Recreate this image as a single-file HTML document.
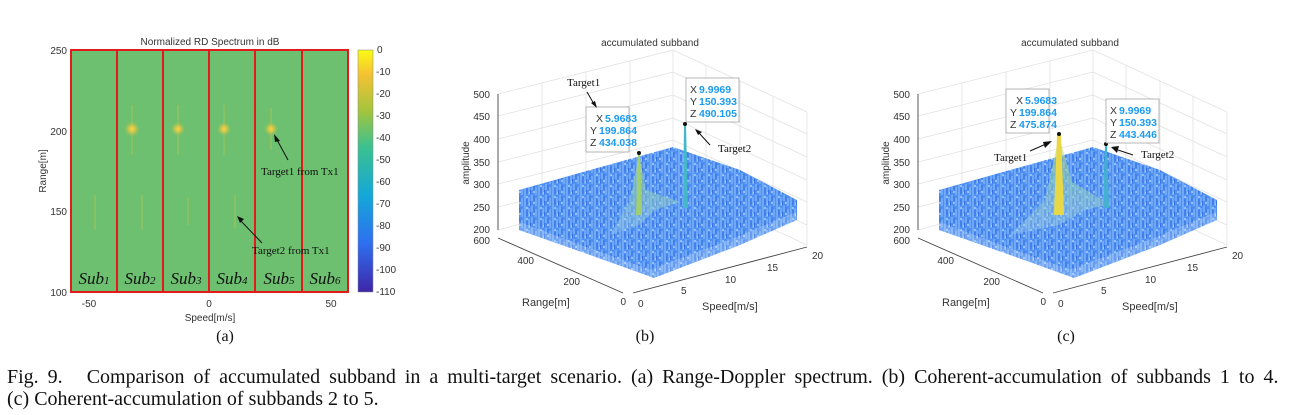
<!DOCTYPE html>
<html><head><meta charset="utf-8"><style>
body{margin:0;background:#fff;width:1291px;height:415px;overflow:hidden}
svg{display:block}
.s{font-family:"Liberation Sans",sans-serif;font-size:10px;fill:#333}
.t{font-family:"Liberation Serif",serif;fill:#111}
.tip{font-family:"Liberation Sans",sans-serif;font-size:10.5px;font-weight:bold;fill:#1a9bf0}
.tipk{font-family:"Liberation Sans",sans-serif;font-size:10.5px;fill:#333}
</style></head><body>
<svg width="1291" height="415" viewBox="0 0 1291 415">
<defs>
<linearGradient id="cb" x1="0" y1="1" x2="0" y2="0">
<stop offset="0" stop-color="#3e26a8"/><stop offset="0.2" stop-color="#2e6ff0"/><stop offset="0.4" stop-color="#14a8d8"/><stop offset="0.6" stop-color="#3bc18f"/><stop offset="0.75" stop-color="#a5c43c"/><stop offset="0.9" stop-color="#f5c232"/><stop offset="1" stop-color="#f9fb15"/>
</linearGradient>
<radialGradient id="spot"><stop offset="0" stop-color="#ffd54a"/><stop offset="0.4" stop-color="#e8c840" stop-opacity="0.7"/><stop offset="1" stop-color="#6cc070" stop-opacity="0"/></radialGradient>
<pattern id="noise" width="14" height="11" patternUnits="userSpaceOnUse">
<rect width="14" height="11" fill="#4f90f2"/>
<path d="M1 0v11M5 2v9M8 0v6M12 3v8" stroke="#8cc0fb" stroke-width="1"/>
<path d="M3 4v6M10 1v5M6.5 6v4" stroke="#3a70e0" stroke-width="1"/>
<path d="M2 2h2M9 8h2M5 9h1" stroke="#d8ecff" stroke-width="1"/>
</pattern>
<linearGradient id="cone" x1="0" y1="0" x2="0" y2="1"><stop offset="0" stop-color="#d8e060"/><stop offset="0.4" stop-color="#8fd0b0"/><stop offset="1" stop-color="#b0dce8" stop-opacity="0.5"/></linearGradient>
<g id="box">
<g stroke="#e2e2e2" stroke-width="0.8" fill="none">
<line x1="58" y1="64" x2="233" y2="20"/><line x1="233" y1="20" x2="367" y2="82"/>
<line x1="58" y1="86" x2="233" y2="42"/><line x1="233" y1="42" x2="367" y2="104"/>
<line x1="58" y1="109" x2="233" y2="65"/><line x1="233" y1="65" x2="367" y2="127"/>
<line x1="58" y1="132" x2="233" y2="88"/><line x1="233" y1="88" x2="367" y2="150"/>
<line x1="58" y1="154" x2="233" y2="110"/><line x1="233" y1="110" x2="367" y2="172"/>
<line x1="58" y1="177" x2="233" y2="133"/><line x1="233" y1="133" x2="367" y2="195"/>
<line x1="233" y1="20" x2="233" y2="153"/><line x1="367" y1="82" x2="367" y2="215"/>
<line x1="102" y1="53" x2="102" y2="188"/><line x1="146" y1="42" x2="146" y2="176"/><line x1="190" y1="31" x2="190" y2="165"/>
<line x1="266" y1="35" x2="266" y2="168"/><line x1="300" y1="51" x2="300" y2="184"/><line x1="333" y1="66" x2="333" y2="199"/>
<line x1="58" y1="200" x2="233" y2="153"/><line x1="233" y1="153" x2="367" y2="215"/>
</g>
<g stroke="#444" stroke-width="0.9" fill="none">
<line x1="58" y1="64" x2="58" y2="200"/>
<line x1="58" y1="208" x2="183" y2="263"/>
<line x1="193" y1="263" x2="367" y2="217"/>
</g>
<g class="s" text-anchor="end">
<text x="50" y="68">500</text><text x="50" y="90">450</text><text x="50" y="113">400</text><text x="50" y="136">350</text><text x="50" y="158">300</text><text x="50" y="181">250</text><text x="50" y="203">200</text>
<text x="50" y="214">600</text><text x="94" y="234">400</text><text x="140" y="255">200</text><text x="186" y="275">0</text>
</g>
<g class="s">
<text x="198" y="277">0</text><text x="241" y="264">5</text><text x="285" y="253">10</text><text x="327" y="241">15</text><text x="372" y="229">20</text>
<text x="82" y="276" font-size="11">Range[m]</text><text x="262" y="280" font-size="11">Speed[m/s]</text>
<text x="210" y="16" text-anchor="middle">accumulated subband</text>
<text transform="translate(29,133) rotate(-90)" text-anchor="middle">amplitude</text>
</g>
<polygon points="79,160 150,140 233,117 300,140 357,170 357,182 290,210 210,240 140,215 79,192" fill="url(#noise)"/>
<polygon points="79,192 140,215 210,240 290,210 357,182 357,190 300,215 214,248 150,225 79,200" fill="url(#noise)" opacity="0.8"/>
</g>
</defs>

<!-- Panel a -->
<rect x="71" y="50" width="277" height="242" fill="#6cc070"/>
<g stroke="#e8c440" stroke-width="0.8" opacity="0.6">
<line x1="132" y1="105" x2="132" y2="155"/><line x1="178" y1="105" x2="178" y2="155"/><line x1="224" y1="105" x2="224" y2="155"/><line x1="271" y1="108" x2="271" y2="150"/>
<line x1="95" y1="195" x2="95" y2="230"/><line x1="142" y1="195" x2="142" y2="230"/><line x1="188" y1="198" x2="188" y2="225"/><line x1="235" y1="195" x2="235" y2="228"/>
</g>
<circle cx="132" cy="129" r="9" fill="url(#spot)"/><circle cx="178" cy="129" r="8" fill="url(#spot)"/><circle cx="224" cy="129" r="8" fill="url(#spot)"/><circle cx="271" cy="129" r="8" fill="url(#spot)"/>
<g stroke="#e31a1c" stroke-width="2" fill="none">
<rect x="71" y="50" width="277" height="242"/>
<line x1="117" y1="50" x2="117" y2="292"/><line x1="163" y1="50" x2="163" y2="292"/><line x1="209" y1="50" x2="209" y2="292"/><line x1="255" y1="50" x2="255" y2="292"/><line x1="302" y1="50" x2="302" y2="292"/>
</g>
<g class="t" font-size="17" font-style="italic" text-anchor="middle">
<text x="94" y="284">Sub<tspan font-size="11">1</tspan></text><text x="140" y="284">Sub<tspan font-size="11">2</tspan></text><text x="186" y="284">Sub<tspan font-size="11">3</tspan></text><text x="232" y="284">Sub<tspan font-size="11">4</tspan></text><text x="279" y="284">Sub<tspan font-size="11">5</tspan></text><text x="325" y="284">Sub<tspan font-size="11">6</tspan></text>
</g>
<g stroke="#111" stroke-width="1"><line x1="288" y1="160" x2="276" y2="138"/><line x1="262" y1="243" x2="240" y2="220"/></g>
<polygon points="274,134 280,141 275,142" fill="#111"/><polygon points="237,216 244,219 240,223" fill="#111"/>
<text class="t" x="261" y="175" font-size="11">Target1 from Tx1</text>
<text class="t" x="252" y="254" font-size="11">Target2 from Tx1</text>
<rect x="358" y="50" width="15" height="242" fill="url(#cb)" stroke="#888" stroke-width="0.5"/>
<g class="s" font-size="9">
<text x="377" y="53">0</text><text x="376" y="75">-10</text><text x="376" y="97">-20</text><text x="376" y="119">-30</text><text x="376" y="141">-40</text><text x="376" y="163">-50</text><text x="376" y="185">-60</text><text x="376" y="207">-70</text><text x="376" y="229">-80</text><text x="376" y="251">-90</text><text x="376" y="273">-100</text><text x="376" y="295">-110</text>
</g>
<g class="s">
<text x="210" y="45" text-anchor="middle">Normalized RD Spectrum in dB</text>
<text x="67" y="54" text-anchor="end">250</text><text x="67" y="135" text-anchor="end">200</text><text x="67" y="215" text-anchor="end">150</text><text x="67" y="296" text-anchor="end">100</text>
<text x="89" y="307" text-anchor="middle">-50</text><text x="209" y="307" text-anchor="middle">0</text><text x="331" y="307" text-anchor="middle">50</text>
<text x="210" y="321" text-anchor="middle">Speed[m/s]</text>
<text transform="translate(46,171) rotate(-90)" text-anchor="middle">Range[m]</text>
</g>
<text class="t" x="225" y="341" font-size="16" text-anchor="middle">(a)</text>

<!-- Panel b -->
<g transform="translate(440,30)"><use href="#box"/>
<polygon points="199,125 190,170 170,205 199,195 215,180 240,172 206,160" fill="url(#cone)" opacity="0.55"/>
<polygon points="198,123 200,123 202,185 196,185" fill="#a0d070"/>
<polygon points="244,94 246,94 248,178 243,178" fill="#45b8c8"/>
<circle cx="199" cy="123" r="2" fill="#111"/><circle cx="245" cy="94" r="2" fill="#111"/>
<rect x="146" y="77" width="43" height="45" fill="#fff" stroke="#999" stroke-width="0.7"/>
<text class="tipk" x="156" y="92">X</text><text class="tip" x="165" y="92">5.9683</text>
<text class="tipk" x="150" y="104">Y</text><text class="tip" x="159" y="104">199.864</text>
<text class="tipk" x="150" y="116">Z</text><text class="tip" x="159" y="116">434.038</text>
<rect x="246" y="48" width="53" height="44" fill="#fff" stroke="#999" stroke-width="0.7"/>
<text class="tipk" x="250" y="63">X</text><text class="tip" x="259" y="63">9.9969</text>
<text class="tipk" x="250" y="75">Y</text><text class="tip" x="259" y="75">150.393</text>
<text class="tipk" x="250" y="87">Z</text><text class="tip" x="259" y="87">490.105</text>
<text class="t" x="127" y="56" font-size="11">Target1</text>
<line x1="147" y1="62" x2="154" y2="74" stroke="#111"/><polygon points="157,78 151,73 155,71" fill="#111"/>
<text class="t" x="278" y="122" font-size="11">Target2</text>
<line x1="270" y1="115" x2="259" y2="103" stroke="#111"/><polygon points="255,99 262,102 258,105" fill="#111"/>
</g>
<text class="t" x="645" y="341" font-size="16" text-anchor="middle">(b)</text>

<!-- Panel c -->
<g transform="translate(860,30)"><use href="#box"/>
<polygon points="199,106 185,170 150,205 199,195 225,180 250,174 212,152" fill="url(#cone)" opacity="0.6"/>
<polygon points="197,104 201,104 204,185 194,185" fill="#e8d848"/>
<polygon points="245,114 247,114 249,178 243,178" fill="#45b0d0"/>
<circle cx="199" cy="104" r="2" fill="#111"/><circle cx="246" cy="114" r="2" fill="#111"/>
<rect x="146" y="59" width="43" height="44" fill="#fff" stroke="#999" stroke-width="0.7"/>
<text class="tipk" x="156" y="74">X</text><text class="tip" x="165" y="74">5.9683</text>
<text class="tipk" x="150" y="86">Y</text><text class="tip" x="159" y="86">199.864</text>
<text class="tipk" x="150" y="98">Z</text><text class="tip" x="159" y="98">475.874</text>
<rect x="246" y="69" width="53" height="44" fill="#fff" stroke="#999" stroke-width="0.7"/>
<text class="tipk" x="250" y="84">X</text><text class="tip" x="259" y="84">9.9969</text>
<text class="tipk" x="250" y="96">Y</text><text class="tip" x="259" y="96">150.393</text>
<text class="tipk" x="250" y="108">Z</text><text class="tip" x="259" y="108">443.446</text>
<text class="t" x="134" y="131" font-size="11">Target1</text>
<line x1="170" y1="121" x2="186" y2="114" stroke="#111"/><polygon points="192,111 185,118 183,112" fill="#111"/>
<text class="t" x="281" y="128" font-size="11">Target2</text>
<line x1="273" y1="125" x2="258" y2="120" stroke="#111"/><polygon points="251,117 259,116 257,123" fill="#111"/>
</g>
<text class="t" x="1066" y="341" font-size="16" text-anchor="middle">(c)</text>

<!-- caption -->
<text class="t" x="7" y="383" font-size="20" word-spacing="4">Fig. 9.<tspan dx="24">Comparison of accumulated subband in a multi-target scenario. (a) Range-Doppler spectrum. (b) Coherent-accumulation of subbands 1 to 4.</tspan></text>
<text class="t" x="7" y="405" font-size="20">(c) Coherent-accumulation of subbands 2 to 5.</text>
</svg>
</body></html>
